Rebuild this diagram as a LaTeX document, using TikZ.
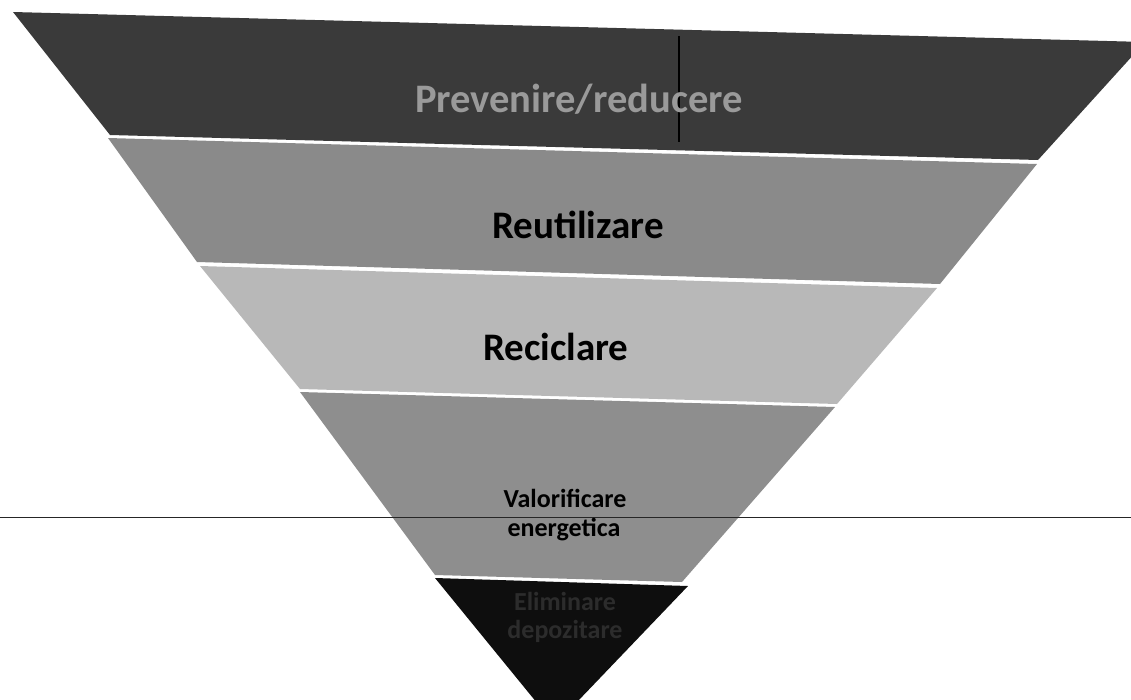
\documentclass[tikz,border=0pt]{standalone}
\usepackage{fontspec}
\setmainfont{Carlito}
\definecolor{layerA}{HTML}{3A3A3A}
\definecolor{layerB}{HTML}{8A8A8A}
\definecolor{layerC}{HTML}{B8B8B8}
\definecolor{layerD}{HTML}{8E8E8E}
\definecolor{layerE}{HTML}{0E0E0E}
\definecolor{textA}{HTML}{9A9A9A}
\definecolor{textE}{HTML}{2C2C2C}
\tikzset{
  layer/.style={draw=none},
  toptxt/.style={anchor=base, inner sep=0pt, font=\fontsize{40.5}{48}\selectfont\bfseries},
  bigtxt/.style={anchor=base, inner sep=0pt, font=\fontsize{39}{46}\selectfont\bfseries},
  smalltxt/.style={anchor=base, inner sep=0pt, font=\fontsize{26}{30}\selectfont\bfseries},
  artifact/.style={line width=1.4pt, black}
}
\begin{document}
\begin{tikzpicture}[x=1pt,y=-1pt]
\useasboundingbox (0,0) rectangle (1131,699);
\begin{scope}
\clip (0,0) rectangle (1131,699);
% layers
\fill[layerA] (13,12) -- (1145,42) -- (1038,160) -- (110,135) -- cycle;
\fill[layerB] (108,138) -- (1037,164) -- (940,284) -- (197,262) -- cycle;
\fill[layerC] (200,266) -- (937,288) -- (837,404) -- (300,389) -- cycle;
\fill[layerD] (300,392) -- (835,407) -- (682,582) -- (435,575) -- cycle;
\fill[layerE] (435,578) -- (688,586) -- (555,725) -- cycle;
% scan artefacts
\coordinate (vt) at (679,36);
\coordinate (vb) at (679,142);
\draw[artifact] (vt) -- (vb);
\coordinate (hl) at (0,517);
\coordinate (hr) at (1131,517);
\draw[line width=1pt, black!85] (hl) -- (hr);
\end{scope}
% labels
\node[toptxt, text=textA] (t1) at (579,112) {Prevenire/reducere};
\node[bigtxt, text=black] (t2) at (578,238) {Reutilizare};
\node[bigtxt, text=black] (t3) at (556,360) {Reciclare};
\node[smalltxt, text=black] (t4a) at (565,507) {Valorificare};
\node[smalltxt, text=black] (t4b) at (564,536) {energetica};
\node[smalltxt, text=textE] (t5a) at (565,610) {Eliminare};
\node[smalltxt, text=textE] (t5b) at (565,638) {depozitare};
\end{tikzpicture}
\end{document}
